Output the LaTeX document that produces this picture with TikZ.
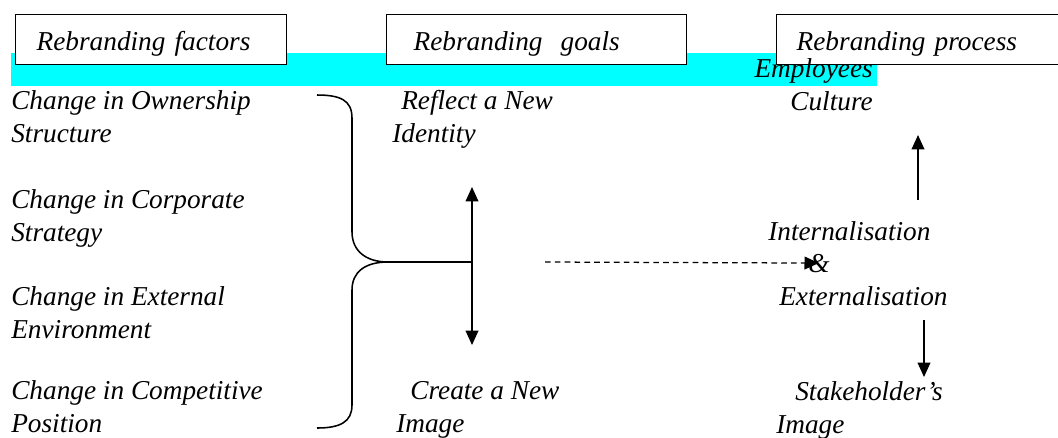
\documentclass[tikz,border=0pt]{standalone}
\usepackage{fontspec}
\setmainfont{Liberation Serif}
\usetikzlibrary{arrows.meta,positioning}
\definecolor{bandcyan}{RGB}{0,255,255}
\tikzset{
  lbl/.style={anchor=base west, inner sep=0pt, align=left,
    font=\itshape\fontsize{19.4}{22.8}\selectfont},
  hdr/.style={draw, line width=1pt, fill=white, anchor=north west,
    inner ysep=0pt, text height=0.9cm, text depth=0.35cm, align=left,
    font=\itshape\fontsize{19.4}{22.8}\selectfont},
  brc/.style={line width=1.1pt},
  tip/.style={line width=0.9pt, -{Triangle[length=0.36cm,width=0.32cm]}},
  dtip/.style={line width=0.9pt, {Triangle[length=0.36cm,width=0.32cm]}-{Triangle[length=0.36cm,width=0.32cm]}},
}
\begin{document}
\begin{tikzpicture}[x=0.025cm,y=-0.025cm]
  \useasboundingbox (0,0) rectangle (1058,437);
  % band under the headings
  \fill[bandcyan] (11,53) rectangle (877,86);

  % headings
  \node[hdr, inner xsep=0.525cm, text width=5.725cm] (hfac) at (15,14) {Rebranding factors};
  \node[hdr, inner xsep=0.675cm, text width=6.15cm] (hgoal) at (386,14) {Rebranding\ \ goals};
  \node[hdr, inner xsep=0.5cm, text width=6.5cm] (hproc) at (776,14) {Rebranding process};

  % factors (base = last line)
  \node[lbl] (fac1) at (11,142) {Change in Ownership\\Structure};
  \node[lbl] (fac2) at (11,241) {Change in Corporate\\Strategy};
  \node[lbl] (fac3) at (11,338) {Change in External\\Environment};
  \node[lbl] (fac4) at (11,432) {Change in Competitive\\Position};

  % goals
  \node[lbl] (gnew) at (392,142) {\hspace*{6.4pt}Reflect a New\\Identity};
  \node[lbl] (gimg) at (396,432) {\hspace*{10pt}Create a New\\Image};

  % process
  \node[lbl, anchor=base east, align=right] (pemp) at (873,110) {Employees\\Culture};
  \node[lbl] (pint) at (768,240) {Internalisation};
  \node[lbl] (pamp) at (808,272) {\&};
  \node[lbl] (pext) at (779,305) {Externalisation};
  \node[lbl] (pstk) at (776,433) {\hspace*{13.5pt}Stakeholder’s\\Image};

  % brace and goal arrows
  \coordinate (bt) at (388,262);
  \coordinate (jn) at (472,262);
  \coordinate (ga) at (472,187);
  \coordinate (gb) at (472,345);
  \draw[brc] (317,95) .. controls (340,95) and (352,100) .. (352,118) -- (352,232)
    .. controls (352,250) and (365,262) .. (bt)
    .. controls (365,262) and (352,272) .. (352,290) -- (352,405)
    .. controls (352,422) and (340,428) .. (317,428);
  \draw[brc] (bt) -- (jn);
  \draw[dtip] (ga) -- (gb);

  % process arrows
  \coordinate (ds) at (545,262);
  \coordinate (ua) at (918,200);
  \coordinate (ub) at (918,135);
  \coordinate (da) at (924,320);
  \coordinate (db) at (924,377);
  \draw[tip, dash pattern=on 4pt off 3pt] (ds) -- (pamp.center);
  \draw[tip] (ua) -- (ub);
  \draw[tip] (da) -- (db);
\end{tikzpicture}
\end{document}
